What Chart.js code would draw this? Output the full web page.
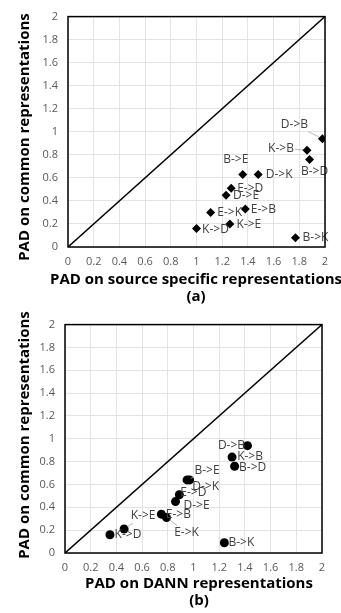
<!DOCTYPE html>
<html>
<head>
<meta charset="utf-8">
<script src="https://cdn.jsdelivr.net/npm/chart.js@4.4.0/dist/chart.umd.min.js"></script>
<style>
  html, body { margin: 0; padding: 0; background: #fff; }
  .box { position: absolute; left: 0; width: 341px; }
  #boxA { top: 0; height: 308px; }
  #boxB { top: 308px; height: 305px; }
</style>
</head>
<body>
<div class="box" id="boxA"><canvas id="chartA" width="341" height="308"></canvas></div>
<div class="box" id="boxB"><canvas id="chartB" width="341" height="305"></canvas></div>
<script>
// data
const axisTicks = [0, 0.2, 0.4, 0.6, 0.8, 1, 1.2, 1.4, 1.6, 1.8, 2];
const diagonal = [0, 2];

// (a) source specific vs common
const pairsA = ["D->B", "K->B", "B->D", "B->E", "D->K", "E->D", "D->E", "E->B", "E->K", "K->E", "K->D", "B->K"];
const sourceA = [1.98, 1.86, 1.88, 1.36, 1.48, 1.27, 1.23, 1.38, 1.11, 1.26, 1.00, 1.77];
const commonA = [0.94, 0.84, 0.76, 0.63, 0.63, 0.51, 0.45, 0.33, 0.30, 0.20, 0.16, 0.08];

// (b) DANN vs common
const pairsB = ["D->B", "K->B", "B->D", "B->E", "D->K", "E->D", "D->E", "E->B", "E->K", "K->E", "K->D", "B->K"];
const dannB = [1.42, 1.30, 1.32, 0.95, 0.97, 0.89, 0.86, 0.75, 0.79, 0.46, 0.35, 1.24];
const commonB = [0.94, 0.84, 0.76, 0.64, 0.64, 0.51, 0.45, 0.34, 0.31, 0.21, 0.16, 0.09];

// label placement (pixel offset from marker, leader line flag)
const labelOffA = [[-28,-14,1],[-26,-2,1],[5,12,0],[-7,-15,0],[21,0,0],[19,0,0],[20,0,0],[18,1,0],[19,0,0],[19,1,0],[19,1,0],[20,0,0]];
const labelOffB = [[-16,0,0],[18,0,0],[18,1,0],[20,-9,1],[16,7,0],[14,-2,0],[21,4,0],[17,0,0],[20,15,1],[19,-13,1],[18,0,0],[17,0,0]];

const pointLabels = {
  id: "pointLabels",
  afterDatasetsDraw(chart, args, opts) {
    const ctx = chart.ctx;
    const meta = chart.getDatasetMeta(1);
    ctx.save();
    ctx.font = "12px 'Open Sans'";
    ctx.fillStyle = "#404040";
    ctx.textAlign = "center";
    ctx.textBaseline = "middle";
    meta.data.forEach((pt, i) => {
      const [dx, dy, leader] = opts.offsets[i];
      const cx = pt.x + dx, cy = pt.y + dy;
      if (leader) {
        const t = Math.min(14 / Math.abs(dx || 1), 7 / Math.abs(dy || 1), 1);
        const len = Math.hypot(dx, dy);
        ctx.beginPath();
        ctx.strokeStyle = "#a6a6a6";
        ctx.lineWidth = 0.8;
        ctx.moveTo(pt.x + dx * (1 - t), pt.y + dy * (1 - t));
        ctx.lineTo(pt.x + dx * 4 / len, pt.y + dy * 4 / len);
        ctx.stroke();
      }
      ctx.fillText(opts.labels[i], cx, cy);
    });
    ctx.restore();
  }
};

const plotBorder = {
  id: "plotBorder",
  afterDraw(chart) {
    const a = chart.chartArea;
    const ctx = chart.ctx;
    ctx.save();
    ctx.strokeStyle = "#000";
    ctx.lineWidth = 1.5;
    ctx.strokeRect(a.left, a.top, a.right - a.left, a.bottom - a.top);
    ctx.restore();
  }
};

// axis titles drawn by hand so the long one is not squeezed to the plot width
const axisTitles = {
  id: "axisTitles",
  afterDraw(chart, args, opts) {
    const ctx = chart.ctx;
    ctx.save();
    ctx.font = "bold 15px 'Open Sans'";
    ctx.fillStyle = "#000";
    ctx.textAlign = "center";
    ctx.textBaseline = "middle";
    opts.xText.forEach((t, i) => ctx.fillText(t, opts.xCx, opts.xY + i * 17));
    ctx.translate(opts.yCx, opts.yCy);
    ctx.rotate(-Math.PI / 2);
    ctx.fillText(opts.yText, 0, 0);
    ctx.restore();
  }
};

function makeChart(id, labels, xs, ys, offsets, style, radius, xTitle, panel, geo) {
  const points = xs.map((x, i) => ({ x: x, y: ys[i] }));
  const line = diagonal.map(v => ({ x: v, y: v }));
  const tickFont = { family: "'Open Sans'", size: 11 };
  return new Chart(document.getElementById(id), {
    type: "scatter",
    data: {
      datasets: [
        {
          type: "line",
          data: line,
          borderColor: "#000",
          borderWidth: 1.5,
          pointRadius: 0,
          order: 2
        },
        {
          data: points,
          pointStyle: style,
          pointRadius: radius,
          backgroundColor: "#000",
          borderColor: "#000",
          borderWidth: 0,
          order: 1
        }
      ]
    },
    options: {
      responsive: false,
      animation: false,
      layout: { padding: { top: geo.top, right: geo.right, left: 0, bottom: 0 } },
      plugins: {
        legend: { display: false },
        tooltip: { enabled: false },
        pointLabels: { labels: labels, offsets: offsets },
        axisTitles: {
          xText: [xTitle, panel], xCx: geo.xCx, xY: geo.xY,
          yText: "PAD on common representations", yCx: 25, yCy: geo.yCy
        }
      },
      scales: {
        x: {
          type: "linear",
          min: 0,
          max: 2,
          afterBuildTicks: s => { s.ticks = axisTicks.map(v => ({ value: v })); },
          afterFit: s => { s.height = geo.xh; },
          grid: { color: "#e3e3e3", drawTicks: false },
          border: { display: false },
          ticks: { padding: 8, color: "#595959", font: tickFont, callback: v => String(v) }
        },
        y: {
          type: "linear",
          min: 0,
          max: 2,
          afterBuildTicks: s => { s.ticks = axisTicks.map(v => ({ value: v })); },
          afterFit: s => { s.width = geo.yw; },
          grid: { color: "#e3e3e3", drawTicks: false },
          border: { display: false },
          ticks: { padding: 10, color: "#595959", font: tickFont, callback: v => String(v) }
        }
      }
    },
    plugins: [pointLabels, plotBorder, axisTitles]
  });
}

makeChart("chartA", pairsA, sourceA, commonA, labelOffA, "rectRot", 4.5,
  "PAD on source specific representations", "(a)",
  { top: 15, right: 16, xh: 61, yw: 68, xCx: 196, xY: 280, yCy: 137 });
makeChart("chartB", pairsB, dannB, commonB, labelOffB, "circle", 4.5,
  "PAD on DANN representations", "(b)",
  { top: 9, right: 19, xh: 60, yw: 65, xCx: 199, xY: 276, yCy: 127 });
</script>
</body>
</html>
